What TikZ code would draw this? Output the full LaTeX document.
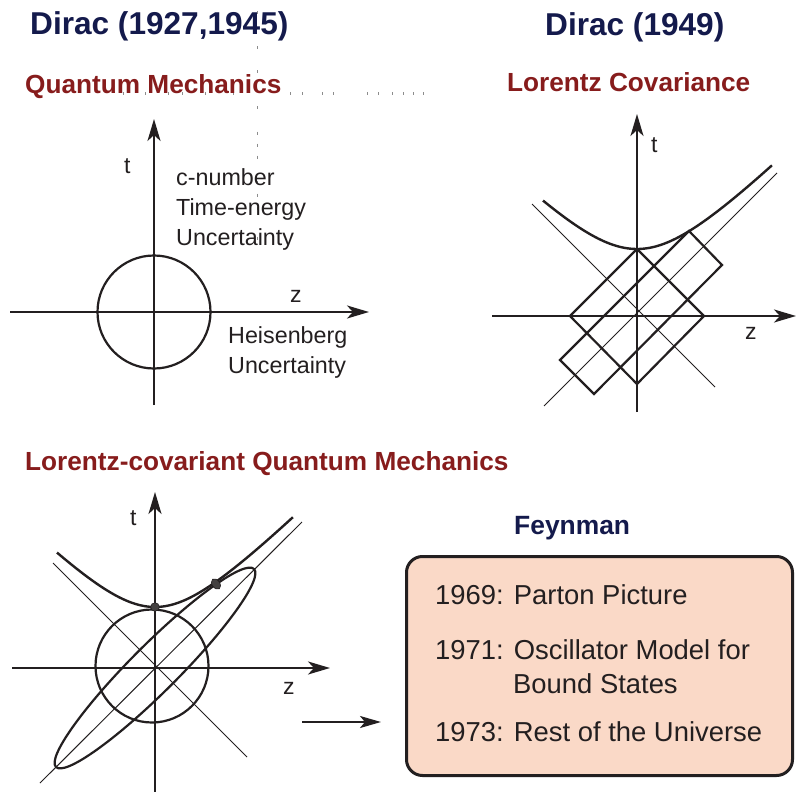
\documentclass[tikz,border=0pt]{standalone}
\usepackage{fontspec}
\setmainfont{Liberation Sans}
\usetikzlibrary{arrows.meta}
\definecolor{navy}{RGB}{20,26,76}
\definecolor{darkred}{RGB}{135,28,28}
\definecolor{peach}{RGB}{250,217,199}
\definecolor{ink}{RGB}{35,31,32}
\tikzset{
  axis/.style={line width=2.4pt, draw=ink, -{Stealth[length=22pt,width=13pt,inset=6pt]}},
  thick curve/.style={line width=2.4pt, draw=ink},
  thin line/.style={line width=1pt, draw=ink},
  shape line/.style={line width=2.2pt, draw=ink, line join=miter},
  lbl/.style={inner sep=0pt, anchor=base west, text=ink, font=\fontsize{23.3}{28}\selectfont},
  axlbl/.style={inner sep=0pt, anchor=base west, text=ink, font=\fontsize{23}{26}\selectfont},
  maintitle/.style={inner sep=0pt, anchor=base west, text=navy, font=\fontsize{31.6}{36}\selectfont\bfseries},
  redtitle/.style={inner sep=0pt, anchor=base west, text=darkred, font=\fontsize{26.2}{30}\selectfont\bfseries},
  boxtext/.style={inner sep=0pt, anchor=base west, text=ink, font=\fontsize{27.4}{32}\selectfont},
  faint/.style={draw=black!45, line width=0.8pt},
  dotmark/.style={fill=ink!85, draw=ink, line width=0.6pt}
}
\begin{document}
\begin{tikzpicture}[x=1pt,y=-1pt]
\useasboundingbox (0,0) rectangle (796,792);
\fill[white] (0,0) rectangle (796,792);

% faint stray marks
\foreach \yy in {13,48,72,108,133,145,157,182,195,208,238}
  \draw[faint] (257,\yy-1.5) -- (257,\yy+1.5);
\foreach \xx in {123,145,168,182,205,233,290,302,322,333,367,378,392,403,413,423}
  \draw[faint] (\xx,92.5) -- (\xx,95.5);

% titles
\node[maintitle] (t1) at (30,35) {Dirac (1927,1945)};
\node[maintitle] (t2) at (545,36) {Dirac (1949)};
\node[redtitle] (r1) at (25,94) {Quantum Mechanics};
\node[redtitle] (r2) at (507,92) {Lorentz Covariance};
\node[redtitle] (r3) at (25,470) {Lorentz-covariant Quantum Mechanics};
\node[inner sep=0pt, anchor=base west, text=navy, font=\fontsize{26.4}{30}\selectfont\bfseries] (fy) at (514,534) {Feynman};

% ---------- top-left figure ----------
\coordinate (O1) at (154,312);
\coordinate (A1b) at (154,405);
\coordinate (A1t) at (154,119);
\coordinate (A1l) at (10,312);
\coordinate (A1r) at (369,312);
\draw[axis] (A1b) -- (A1t);
\draw[axis] (A1l) -- (A1r);
\draw[line width=2.2pt, draw=ink] (O1) circle[radius=56.5];
\node[axlbl] (tl1) at (124,173) {t};
\node[axlbl] (zl1) at (290,302) {z};
\node[lbl] (c1) at (176,185) {c-number};
\node[lbl] (c2) at (176,215) {Time-energy};
\node[lbl] (c3) at (176,245) {Uncertainty};
\node[lbl] (h1) at (228,343) {Heisenberg};
\node[lbl] (h2) at (228,373) {Uncertainty};

% ---------- top-right figure ----------
\coordinate (O2) at (637,316);
\coordinate (A2b) at (637,412);
\coordinate (A2t) at (637,114);
\coordinate (A2l) at (492,316);
\coordinate (A2r) at (796,316);
\draw[thin line] (532,204) coordinate (L2a) -- (715,387) coordinate (L2b);
\draw[thin line] (544,406) coordinate (L2c) -- (777,173) coordinate (L2d);
\draw[axis] (A2b) -- (A2t);
\draw[axis] (A2l) -- (A2r);
\draw[thick curve] plot[domain=-0.94:1.35, samples=80, smooth] ({637+100*\x},{316-100*sqrt(0.4489+\x*\x)});
\coordinate (D1) at (637,249);
\coordinate (D2) at (704,316);
\coordinate (D3) at (637,384);
\coordinate (D4) at (570,316);
\draw[shape line] (D1) -- (D2) -- (D3) -- (D4) -- cycle;
\coordinate (R1) at (689,231);
\coordinate (R2) at (722,265);
\coordinate (R3) at (594,394);
\coordinate (R4) at (560,360);
\draw[shape line] (R1) -- (R2) -- (R3) -- (R4) -- cycle;
\node[axlbl] (tl2) at (651,153) {t};
\node[axlbl] (zl2) at (745,339) {z};

% ---------- bottom-left figure ----------
\coordinate (O3) at (155,668);
\coordinate (A3b) at (155,792);
\coordinate (A3t) at (155,492);
\coordinate (A3l) at (12,668);
\coordinate (A3r) at (330,668);
\draw[thin line] (53,563) coordinate (L3a) -- (247,757) coordinate (L3b);
\draw[thin line] (40,783) coordinate (L3c) -- (302,522) coordinate (L3d);
\draw[axis] (A3b) -- (A3t);
\draw[axis] (A3l) -- (A3r);
\draw[line width=2.2pt, draw=ink] (152,666) circle[radius=56.5];
\draw[line width=2.2pt, draw=ink, rotate around={45:(O3)}] (O3) ellipse[x radius=140, y radius=23.5];
\draw[thick curve] plot[domain=-0.98:1.38, samples=80, smooth] ({155+100*\x},{668-100*sqrt(0.3721+\x*\x)});
\draw[dotmark] (155,607) circle[radius=4.3];
\draw[dotmark, rotate around={35:(216,584)}] (216,584) ellipse[x radius=3.8, y radius=5.8];
\node[axlbl] (tl3) at (130,525) {t};
\node[axlbl] (zl3) at (283,694) {z};

% arrow to box
\coordinate (AR1) at (302,722);
\coordinate (AR2) at (381,722);
\draw[line width=2.4pt, draw=ink, -{Stealth[length=21pt,width=12pt,inset=5pt]}] (AR1) -- (AR2);

% ---------- Feynman box ----------
\node[draw=ink, fill=peach, line width=3pt, rounded corners=16pt, minimum width=386pt, minimum height=219pt, anchor=north west, inner sep=0pt] (box) at (405,555) {};
\node[boxtext] (b1) at (435,604) {1969: Parton Picture};
\node[boxtext] (b2) at (435,659) {1971: Oscillator Model for};
\node[boxtext] (b3) at (513,693) {Bound States};
\node[boxtext] (b4) at (435,741) {1973: Rest of the Universe};
\end{tikzpicture}
\end{document}
